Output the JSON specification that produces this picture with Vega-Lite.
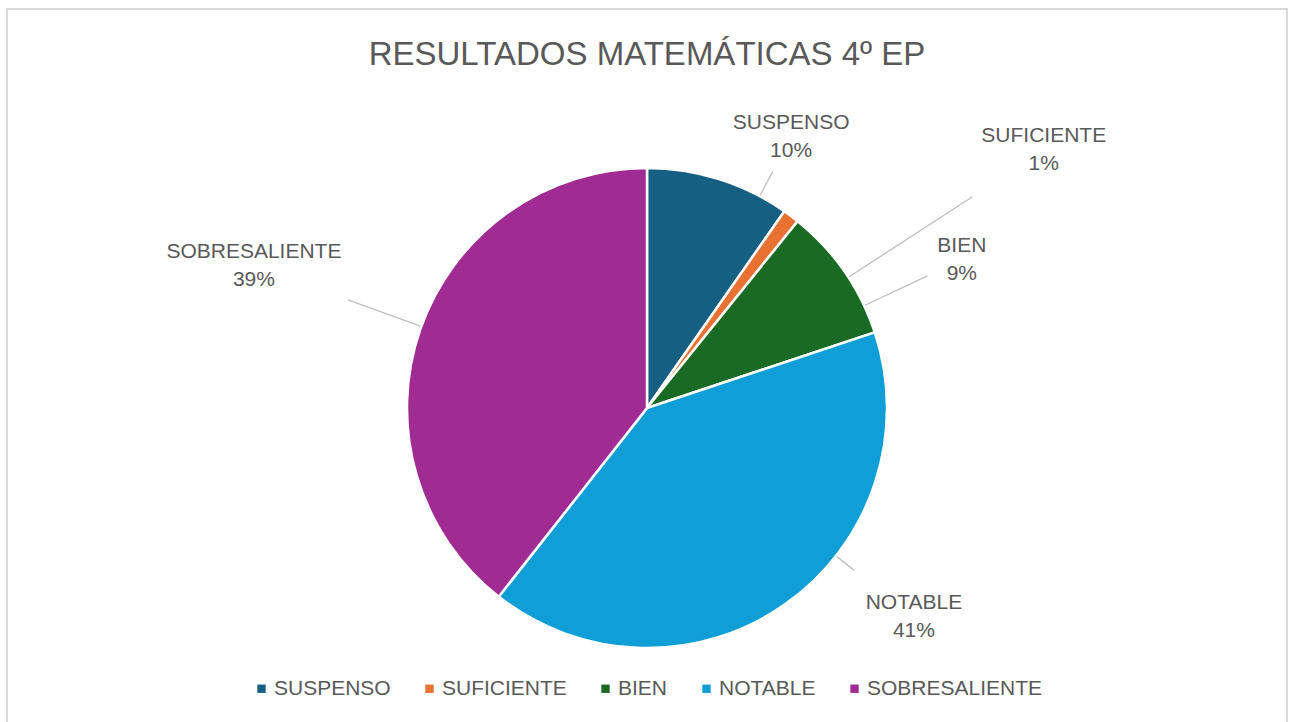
{
  "$schema": "https://vega.github.io/schema/vega-lite/v6.json",
  "width": 1280,
  "height": 798,
  "autosize": "none",
  "padding": {"left": 7, "top": 9, "right": 3, "bottom": 0},
  "background": "white",
  "view": {"stroke": "#d9d9d9", "strokeWidth": 2},
  "title": {
    "text": "RESULTADOS MATEMÁTICAS 4º EP",
    "font": "Liberation Sans",
    "fontSize": 33,
    "fontWeight": "normal",
    "color": "#595959",
    "anchor": "middle",
    "frame": "group",
    "baseline": "alphabetic",
    "offset": 0,
    "dy": 112
  },
  "data": {
    "values": [
      {"categoria": "SUSPENSO", "orden": 1, "valor": 0.097},
      {"categoria": "SUFICIENTE", "orden": 2, "valor": 0.011},
      {"categoria": "BIEN", "orden": 3, "valor": 0.091},
      {"categoria": "NOTABLE", "orden": 4, "valor": 0.407},
      {"categoria": "SOBRESALIENTE", "orden": 5, "valor": 0.394}
    ]
  },
  "encoding": {
    "theta": {"field": "valor", "type": "quantitative", "stack": true},
    "order": {"field": "orden", "type": "quantitative"},
    "detail": {"field": "categoria", "type": "nominal"}
  },
  "layer": [
    {
      "mark": {"type": "arc", "outerRadius": 240, "stroke": "white", "strokeWidth": 2.5},
      "encoding": {
        "color": {
          "field": "categoria",
          "type": "nominal",
          "scale": {
            "domain": ["SUSPENSO", "SUFICIENTE", "BIEN", "NOTABLE", "SOBRESALIENTE"],
            "range": ["#156082", "#E97132", "#196B24", "#0F9ED5", "#A02B93"]
          },
          "legend": {
            "title": null,
            "orient": "bottom",
            "direction": "horizontal",
            "offset": -129,
            "symbolType": "square",
            "symbolSize": 70,
            "symbolStrokeWidth": 0,
            "labelFont": "Liberation Sans",
            "labelFontSize": 21,
            "labelColor": "#595959",
            "labelOffset": 2,
            "labelLimit": 400,
            "columnPadding": 28
          }
        }
      }
    },
    {
      "mark": {"type": "arc", "radius": 268, "radius2": 241, "padAngle": 3, "thetaOffset": 0.184, "fillOpacity": 0, "stroke": "#bfbfbf", "strokeWidth": 1.3},
      "encoding": {"opacity": {"condition": {"test": "datum.categoria === 'SUSPENSO'", "value": 1}, "value": 0}}
    },
    {
      "mark": {"type": "arc", "radius": 388, "radius2": 241, "padAngle": 3, "thetaOffset": 0.351, "fillOpacity": 0, "stroke": "#bfbfbf", "strokeWidth": 1.3},
      "encoding": {"opacity": {"condition": {"test": "datum.categoria === 'SUFICIENTE'", "value": 1}, "value": 0}}
    },
    {
      "mark": {"type": "arc", "radius": 310, "radius2": 241, "padAngle": 3, "thetaOffset": 0.166, "fillOpacity": 0, "stroke": "#bfbfbf", "strokeWidth": 1.3},
      "encoding": {"opacity": {"condition": {"test": "datum.categoria === 'BIEN'", "value": 1}, "value": 0}}
    },
    {
      "mark": {"type": "arc", "radius": 263, "radius2": 241, "padAngle": 3, "thetaOffset": -0.294, "fillOpacity": 0, "stroke": "#bfbfbf", "strokeWidth": 1.3},
      "encoding": {"opacity": {"condition": {"test": "datum.categoria === 'NOTABLE'", "value": 1}, "value": 0}}
    },
    {
      "mark": {"type": "arc", "radius": 318, "radius2": 241, "padAngle": 3, "thetaOffset": 0.014, "fillOpacity": 0, "stroke": "#bfbfbf", "strokeWidth": 1.3},
      "encoding": {"opacity": {"condition": {"test": "datum.categoria === 'SOBRESALIENTE'", "value": 1}, "value": 0}}
    },
    {
      "mark": {"type": "text", "radius": 307, "thetaOffset": 0.184, "dy": -14, "font": "Liberation Sans", "fontSize": 21, "color": "#595959", "baseline": "middle", "align": "center"},
      "encoding": {"text": {"field": "categoria", "type": "nominal"}, "opacity": {"condition": {"test": "datum.categoria === 'SUSPENSO'", "value": 1}, "value": 0}}
    },
    {
      "mark": {"type": "text", "radius": 307, "thetaOffset": 0.184, "dy": 14, "font": "Liberation Sans", "fontSize": 21, "color": "#595959", "baseline": "middle", "align": "center"},
      "encoding": {"text": {"field": "valor", "type": "quantitative", "format": ".0%"}, "opacity": {"condition": {"test": "datum.categoria === 'SUSPENSO'", "value": 1}, "value": 0}}
    },
    {
      "mark": {"type": "text", "radius": 473, "thetaOffset": 0.351, "dy": -14, "font": "Liberation Sans", "fontSize": 21, "color": "#595959", "baseline": "middle", "align": "center"},
      "encoding": {"text": {"field": "categoria", "type": "nominal"}, "opacity": {"condition": {"test": "datum.categoria === 'SUFICIENTE'", "value": 1}, "value": 0}}
    },
    {
      "mark": {"type": "text", "radius": 473, "thetaOffset": 0.351, "dy": 14, "font": "Liberation Sans", "fontSize": 21, "color": "#595959", "baseline": "middle", "align": "center"},
      "encoding": {"text": {"field": "valor", "type": "quantitative", "format": ".0%"}, "opacity": {"condition": {"test": "datum.categoria === 'SUFICIENTE'", "value": 1}, "value": 0}}
    },
    {
      "mark": {"type": "text", "radius": 348, "thetaOffset": 0.166, "dy": -14, "font": "Liberation Sans", "fontSize": 21, "color": "#595959", "baseline": "middle", "align": "center"},
      "encoding": {"text": {"field": "categoria", "type": "nominal"}, "opacity": {"condition": {"test": "datum.categoria === 'BIEN'", "value": 1}, "value": 0}}
    },
    {
      "mark": {"type": "text", "radius": 348, "thetaOffset": 0.166, "dy": 14, "font": "Liberation Sans", "fontSize": 21, "color": "#595959", "baseline": "middle", "align": "center"},
      "encoding": {"text": {"field": "valor", "type": "quantitative", "format": ".0%"}, "opacity": {"condition": {"test": "datum.categoria === 'BIEN'", "value": 1}, "value": 0}}
    },
    {
      "mark": {"type": "text", "radius": 339, "thetaOffset": -0.294, "dy": -14, "font": "Liberation Sans", "fontSize": 21, "color": "#595959", "baseline": "middle", "align": "center"},
      "encoding": {"text": {"field": "categoria", "type": "nominal"}, "opacity": {"condition": {"test": "datum.categoria === 'NOTABLE'", "value": 1}, "value": 0}}
    },
    {
      "mark": {"type": "text", "radius": 339, "thetaOffset": -0.294, "dy": 14, "font": "Liberation Sans", "fontSize": 21, "color": "#595959", "baseline": "middle", "align": "center"},
      "encoding": {"text": {"field": "valor", "type": "quantitative", "format": ".0%"}, "opacity": {"condition": {"test": "datum.categoria === 'NOTABLE'", "value": 1}, "value": 0}}
    },
    {
      "mark": {"type": "text", "radius": 418, "thetaOffset": 0.014, "dy": -14, "font": "Liberation Sans", "fontSize": 21, "color": "#595959", "baseline": "middle", "align": "center"},
      "encoding": {"text": {"field": "categoria", "type": "nominal"}, "opacity": {"condition": {"test": "datum.categoria === 'SOBRESALIENTE'", "value": 1}, "value": 0}}
    },
    {
      "mark": {"type": "text", "radius": 418, "thetaOffset": 0.014, "dy": 14, "font": "Liberation Sans", "fontSize": 21, "color": "#595959", "baseline": "middle", "align": "center"},
      "encoding": {"text": {"field": "valor", "type": "quantitative", "format": ".0%"}, "opacity": {"condition": {"test": "datum.categoria === 'SOBRESALIENTE'", "value": 1}, "value": 0}}
    }
  ],
  "config": {
    "view": {"stroke": "#d9d9d9", "strokeWidth": 2},
    "style": {"cell": {"stroke": "#d9d9d9", "strokeWidth": 2}},
    "legend": {"layout": {"bottom": {"anchor": "middle"}}}
  }
}
